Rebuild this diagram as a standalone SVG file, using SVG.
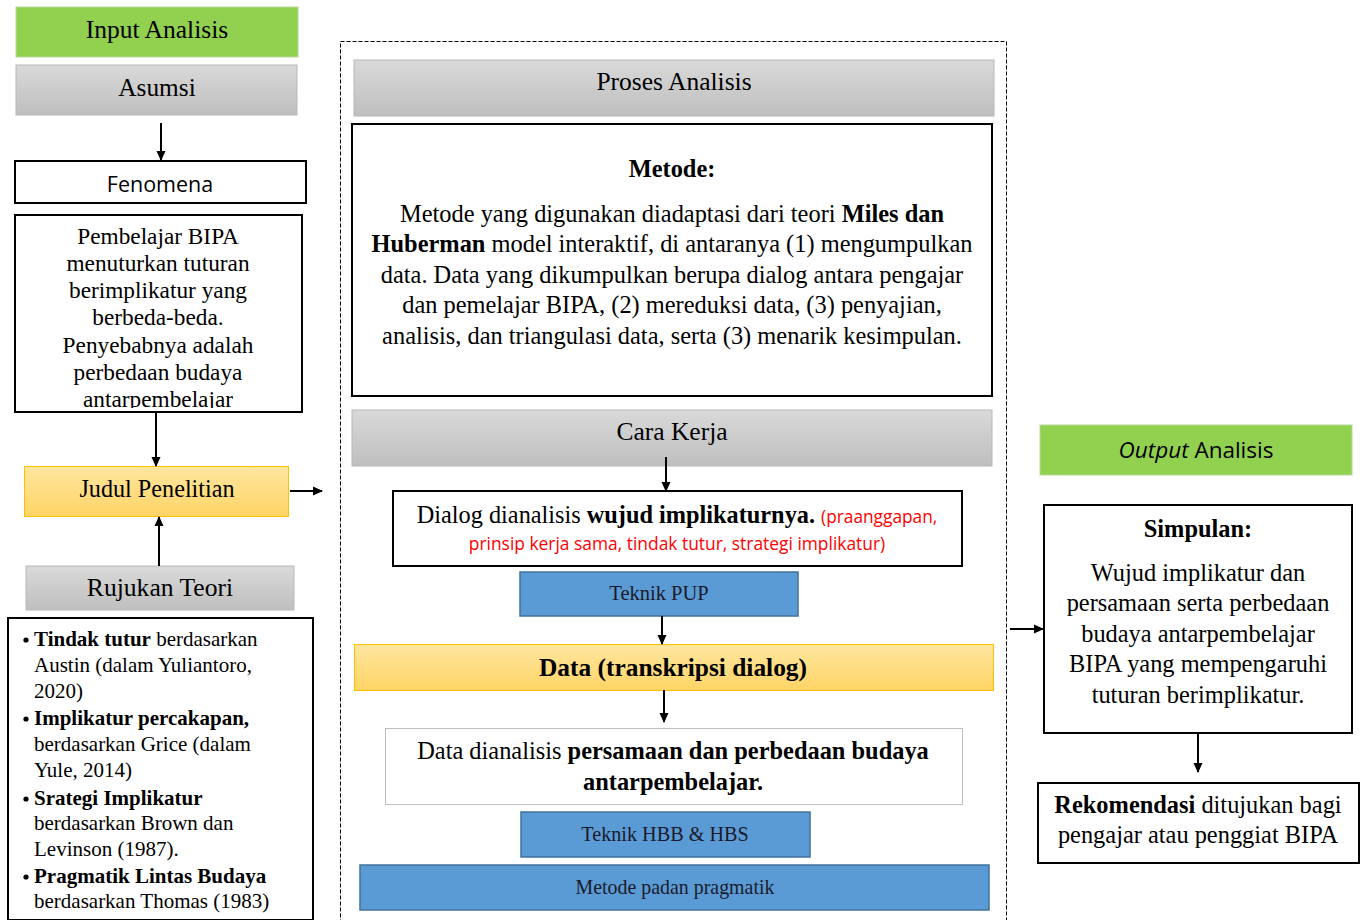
<svg xmlns="http://www.w3.org/2000/svg" width="1365" height="920" viewBox="0 0 1365 920">
<style>
.serif{font-family:"Liberation Serif","Times New Roman",serif;fill:#000}
.sans{font-family:"Open Sans","Liberation Sans",sans-serif;fill:#000}
.green{fill:#92d050;stroke:#b5d99a;stroke-width:1}
.gray{fill:url(#gGray);stroke:#b8b8b8;stroke-width:1}
.orange{fill:url(#gOrange);stroke:#ffc000;stroke-width:1}
.blue{fill:#5b9bd5;stroke:#41719c;stroke-width:1.5}
.box{fill:#fff;stroke:#000;stroke-width:2}
.boxl{fill:#fff;stroke:#bfbfbf;stroke-width:1}
.conn{stroke:#000;stroke-width:2;fill:none;marker-end:url(#ah)}
.b{font-weight:bold}
.red{fill:#ff0000}
.dk{fill:#1a1a2a}
.dot{fill:#000}
</style>
<defs>
<linearGradient id="gGray" x1="0" y1="0" x2="0" y2="1"><stop offset="0" stop-color="#d9d9d9"/><stop offset="1" stop-color="#bfbfbf"/></linearGradient>
<linearGradient id="gOrange" x1="0" y1="0" x2="0" y2="1"><stop offset="0" stop-color="#fee6a0"/><stop offset="1" stop-color="#ffd465"/></linearGradient>
<marker id="ah" markerWidth="10" markerHeight="10" refX="9" refY="5" orient="auto" markerUnits="userSpaceOnUse"><path d="M0,0.5 L10,5 L0,9.5 z" fill="#000"/></marker>
<clipPath id="clipP"><rect x="16" y="216" width="285" height="192"/></clipPath>
</defs>
<rect width="1365" height="920" fill="#fff"/>

<g id="container"><rect x="340.5" y="41.5" width="666" height="900" fill="none" stroke="#000" stroke-width="1" stroke-dasharray="4,2"/></g>

<g id="input-analisis"><rect class="green" x="16" y="7" width="282" height="50"/><text class="serif" x="157" y="38" font-size="25.5" text-anchor="middle">Input Analisis</text></g>
<g id="asumsi"><rect class="gray" x="16" y="65" width="281" height="50"/><text class="serif" x="157" y="96" font-size="25.3" text-anchor="middle">Asumsi</text></g>
<g id="fenomena"><rect class="box" x="15" y="161" width="291" height="42"/><text class="sans" x="160" y="192" font-size="21.5" text-anchor="middle">Fenomena</text></g>
<g id="pembelajar"><rect class="box" x="15" y="215" width="287" height="197"/>
<g clip-path="url(#clipP)"><text class="serif" font-size="23.3" text-anchor="middle">
<tspan x="158" y="244">Pembelajar BIPA</tspan><tspan x="158" y="271">menuturkan tuturan</tspan><tspan x="158" y="298">berimplikatur yang</tspan><tspan x="158" y="325">berbeda-beda.</tspan><tspan x="158" y="353">Penyebabnya adalah</tspan><tspan x="158" y="380">perbedaan budaya</tspan><tspan x="158" y="407">antarpembelajar</tspan></text></g></g>
<g id="judul"><rect class="orange" x="24.5" y="466.5" width="264" height="50"/><text class="serif" x="157" y="497" font-size="24.2" text-anchor="middle">Judul Penelitian</text></g>
<g id="rujukan"><rect class="gray" x="26" y="566" width="268" height="44"/><text class="serif" x="160" y="596" font-size="25.6" text-anchor="middle">Rujukan Teori</text></g>
<g id="teori"><rect class="box" x="8" y="618" width="305" height="302"/>
<circle class="dot" cx="26" cy="640" r="2.6"/><circle class="dot" cx="26" cy="719" r="2.6"/><circle class="dot" cx="26" cy="799" r="2.6"/><circle class="dot" cx="26" cy="877" r="2.6"/>
<g class="serif" font-size="21">
<text x="34" y="646"><tspan class="b">Tindak tutur</tspan> berdasarkan</text>
<text x="34" y="672">Austin (dalam Yuliantoro,</text>
<text x="34" y="698">2020)</text>
<text x="34" y="725" class="b">Implikatur percakapan,</text>
<text x="34" y="751">berdasarkan Grice (dalam</text>
<text x="34" y="777">Yule, 2014)</text>
<text x="34" y="805" class="b">Srategi Implikatur</text>
<text x="34" y="830">berdasarkan Brown dan</text>
<text x="34" y="856">Levinson (1987).</text>
<text x="34" y="883" class="b">Pragmatik Lintas Budaya</text>
<text x="34" y="908">berdasarkan Thomas (1983)</text>
</g></g>

<g id="proses"><rect class="gray" x="354" y="60" width="640" height="56"/><text class="serif" x="674" y="90" font-size="25.5" text-anchor="middle">Proses Analisis</text></g>
<g id="metode"><rect class="box" x="352" y="124" width="640" height="272"/>
<g class="serif" font-size="24.4" text-anchor="middle">
<text class="b" x="672" y="177">Metode:</text>
<text x="672" y="222">Metode yang digunakan diadaptasi dari teori <tspan class="b">Miles dan</tspan></text>
<text x="672" y="252"><tspan class="b">Huberman</tspan> model interaktif, di antaranya (1) mengumpulkan</text>
<text x="672" y="283">data. Data yang dikumpulkan berupa dialog antara pengajar</text>
<text x="672" y="313">dan pemelajar BIPA, (2) mereduksi data, (3) penyajian,</text>
<text x="672" y="344">analisis, dan triangulasi data, serta (3) menarik kesimpulan.</text>
</g></g>
<g id="cara-kerja"><rect class="gray" x="352" y="410" width="640" height="56"/><text class="serif" x="672" y="440" font-size="25.5" text-anchor="middle">Cara Kerja</text></g>
<g id="dialog"><rect class="box" x="393" y="491" width="569" height="75"/>
<text class="serif" x="677" y="523" font-size="24.3" text-anchor="middle">Dialog dianalisis <tspan class="b">wujud implikaturnya.</tspan> <tspan class="sans red" font-size="17.3">(praanggapan,</tspan></text>
<text class="sans red" x="677" y="550" font-size="17.4" text-anchor="middle">prinsip kerja sama, tindak tutur, strategi implikatur)</text></g>
<g id="teknik-pup"><rect class="blue" x="520" y="572" width="278" height="44"/><text class="serif dk" x="659" y="600" font-size="20.5" text-anchor="middle">Teknik PUP</text></g>
<g id="data"><rect class="orange" x="354.5" y="644.5" width="639" height="46"/><text class="serif b" x="673" y="676" font-size="25.4" text-anchor="middle">Data (transkripsi dialog)</text></g>
<g id="data-dianalisis"><rect class="boxl" x="385.5" y="728.5" width="577" height="76"/>
<g class="serif" font-size="24.4" text-anchor="middle">
<text x="673" y="759">Data dianalisis <tspan class="b">persamaan dan perbedaan budaya</tspan></text>
<text class="b" x="673" y="790">antarpembelajar.</text></g></g>
<g id="teknik-hbb"><rect class="blue" x="521" y="812" width="289" height="45"/><text class="serif dk" x="665" y="841" font-size="20.2" text-anchor="middle">Teknik HBB &amp; HBS</text></g>
<g id="metode-padan"><rect class="blue" x="360" y="865" width="629" height="45"/><text class="serif dk" x="675" y="894" font-size="19.9" text-anchor="middle">Metode padan pragmatik</text></g>

<g id="output-analisis"><rect class="green" x="1040" y="425" width="312" height="50"/><text class="sans" x="1196" y="458" font-size="22.5" text-anchor="middle"><tspan font-style="italic">Output</tspan> Analisis</text></g>
<g id="simpulan"><rect class="box" x="1044" y="505" width="308" height="228"/>
<g class="serif" font-size="24.4" text-anchor="middle">
<text class="b" x="1198" y="537">Simpulan:</text>
<text x="1198" y="581">Wujud implikatur dan</text>
<text x="1198" y="611">persamaan serta perbedaan</text>
<text x="1198" y="642">budaya antarpembelajar</text>
<text x="1198" y="672">BIPA yang mempengaruhi</text>
<text x="1198" y="703">tuturan berimplikatur.</text>
</g></g>
<g id="rekomendasi"><rect class="box" x="1038" y="783" width="321" height="80"/>
<g class="serif" font-size="24.4" text-anchor="middle">
<text x="1198" y="813"><tspan class="b">Rekomendasi</tspan> ditujukan bagi</text>
<text x="1198" y="843">pengajar atau penggiat BIPA</text></g></g>

<g id="connectors">
<line class="conn" x1="161" y1="123" x2="161" y2="160"/>
<line class="conn" x1="156" y1="412" x2="156" y2="466"/>
<line class="conn" x1="290" y1="491" x2="322" y2="491"/>
<line class="conn" x1="159" y1="566" x2="159" y2="517"/>
<line class="conn" x1="666" y1="457" x2="666" y2="491"/>
<line class="conn" x1="662" y1="616" x2="662" y2="644"/>
<line class="conn" x1="664" y1="690" x2="664" y2="722"/>
<line class="conn" x1="1010" y1="629" x2="1043" y2="629"/>
<line class="conn" x1="1198" y1="733" x2="1198" y2="772"/>
</g>
</svg>
